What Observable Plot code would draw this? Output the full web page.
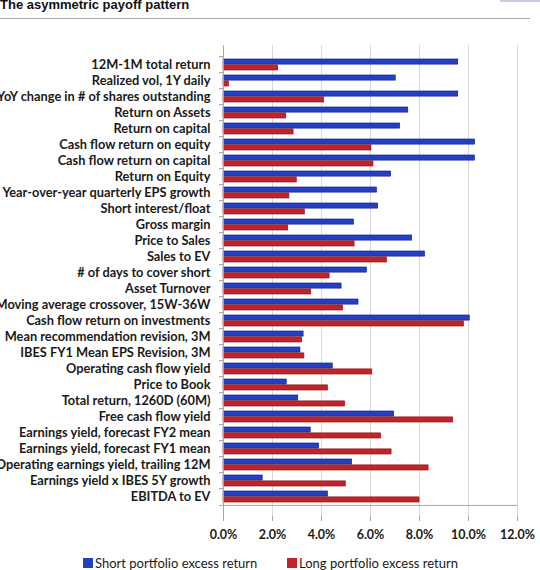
<!DOCTYPE html>
<html>
<head>
<meta charset="utf-8">
<script src="https://cdn.jsdelivr.net/npm/d3@7"></script>
<script src="https://cdn.jsdelivr.net/npm/@observablehq/plot@0.6"></script>
<style>
  html, body { margin: 0; padding: 0; background: #fff; }
  #page { position: relative; width: 540px; height: 570px; overflow: hidden; font-family: Lato, "Open Sans", sans-serif; }
  #title { position: absolute; left: 0; top: -2.5px; font-family: "Liberation Sans", Arial, sans-serif; font-size: 13px; line-height: 13px; font-weight: bold; color: #111; white-space: nowrap; }
  #rule { position: absolute; left: 0; top: 18px; width: 530px; height: 1px; background: #a8a8a8; }
  #corner { position: absolute; left: 500px; top: 0; width: 40px; height: 2px; background: #c5cbe0; }
  #chart { position: absolute; left: 0; top: 0; }
  .lg { position: absolute; top: 555px; font-size: 13px; line-height: 16px; color: #1a1a1a; white-space: nowrap; }
  .sw { position: absolute; top: 558px; width: 10px; height: 10px; }
</style>
</head>
<body>
<div id="page">
  <div id="chart"></div>
  <div id="title">The asymmetric payoff pattern</div>
  <div id="rule"></div>
  <div id="corner"></div>
  <div class="sw" style="left:83px;background:#2140c2"></div>
  <div class="lg" style="left:95px">Short portfolio excess return</div>
  <div class="sw" style="left:287px;background:#c0232a"></div>
  <div class="lg" style="left:299px">Long portfolio excess return</div>
</div>
<script>
const metrics = [
  "12M-1M total return",
  "Realized vol, 1Y daily",
  "YoY change in # of shares outstanding",
  "Return on Assets",
  "Return on capital",
  "Cash flow return on equity",
  "Cash flow return on capital",
  "Return on Equity",
  "Year-over-year quarterly EPS growth",
  "Short interest/float",
  "Gross margin",
  "Price to Sales",
  "Sales to EV",
  "# of days to cover short",
  "Asset Turnover",
  "Moving average crossover, 15W-36W",
  "Cash flow return on investments",
  "Mean recommendation revision, 3M",
  "IBES FY1 Mean EPS Revision, 3M",
  "Operating cash flow yield",
  "Price to Book",
  "Total return, 1260D (60M)",
  "Free cash flow yield",
  "Earnings yield, forecast FY2 mean",
  "Earnings yield, forecast FY1 mean",
  "Operating earnings yield, trailing 12M",
  "Earnings yield x IBES 5Y growth",
  "EBITDA to EV"
];
const shortReturn = [
  0.0958, 0.0703, 0.0958, 0.0754, 0.0721, 0.1027, 0.1026, 0.0684, 0.0626, 0.0631,
  0.0532, 0.0770, 0.0822, 0.0585, 0.0482, 0.0551, 0.1005, 0.0327, 0.0314, 0.0446,
  0.0258, 0.0305, 0.0696, 0.0356, 0.0390, 0.0525, 0.0160, 0.0426
];
const longReturn = [
  0.0223, 0.0022, 0.0411, 0.0256, 0.0286, 0.0604, 0.0612, 0.0299, 0.0269, 0.0332,
  0.0264, 0.0535, 0.0667, 0.0433, 0.0358, 0.0488, 0.0981, 0.0321, 0.0330, 0.0607,
  0.0426, 0.0496, 0.0937, 0.0643, 0.0686, 0.0837, 0.0499, 0.0800
];
const xTicks = [0, 0.02, 0.04, 0.06, 0.08, 0.10, 0.12];

const data = metrics.map((m, i) => ({metric: m, short: shortReturn[i], long: longReturn[i]}));

const W = 540, H = 550, MT = 45, MB = 34, ML = 223, MR = 23;
const step = (H - MT - MB) / metrics.length;
const bw = step * 0.7;
const perPx = 0.12 / (W - ML - MR);
const axisGray = "#a6a6a6";

const chart = Plot.plot({
  width: W, height: H,
  marginTop: MT, marginBottom: MB, marginLeft: ML, marginRight: MR,
  style: {fontFamily: "Lato, 'Open Sans', sans-serif", background: "transparent"},
  x: {domain: [0, 0.12], label: null},
  y: {domain: metrics, paddingInner: 0.3, paddingOuter: 0.15, label: null},
  marks: [
    Plot.gridX(xTicks, {stroke: "#d9d9d9", strokeOpacity: 1}),
    Plot.barX(data, {x: "short", y: "metric", insetBottom: bw / 2, fill: "#2140c2", stroke: "#16268c", strokeWidth: 0.7}),
    Plot.barX(data, {x: "long", y: "metric", insetTop: bw / 2, fill: "#c0232a", stroke: "#8c1a1c", strokeWidth: 0.7}),
    Plot.ruleX([0], {stroke: axisGray}),
    Plot.ruleY([metrics[metrics.length - 1]], {y: d => d, x1: 0, x2: 0.12, dy: step / 2, stroke: axisGray}),
    Plot.ruleY(metrics, {y: d => d, x1: -4 * perPx, x2: 0, dy: -step / 2, stroke: axisGray}),
    Plot.ruleY([metrics[metrics.length - 1]], {y: d => d, x1: -4 * perPx, x2: 0, dy: step / 2, stroke: axisGray}),
    Plot.axisY({tickSize: 0, tickPadding: 13, fontSize: 12.8, fontWeight: "bold", fill: "#1a1a1a", label: null}),
    Plot.axisX({ticks: xTicks, tickFormat: d3.format(".1%"), tickSize: 5, tickPadding: 9, fontSize: 12.5, fontWeight: "bold", stroke: axisGray, fill: "#1a1a1a", label: null})
  ]
});
document.getElementById("chart").appendChild(chart);
</script>
</body>
</html>
